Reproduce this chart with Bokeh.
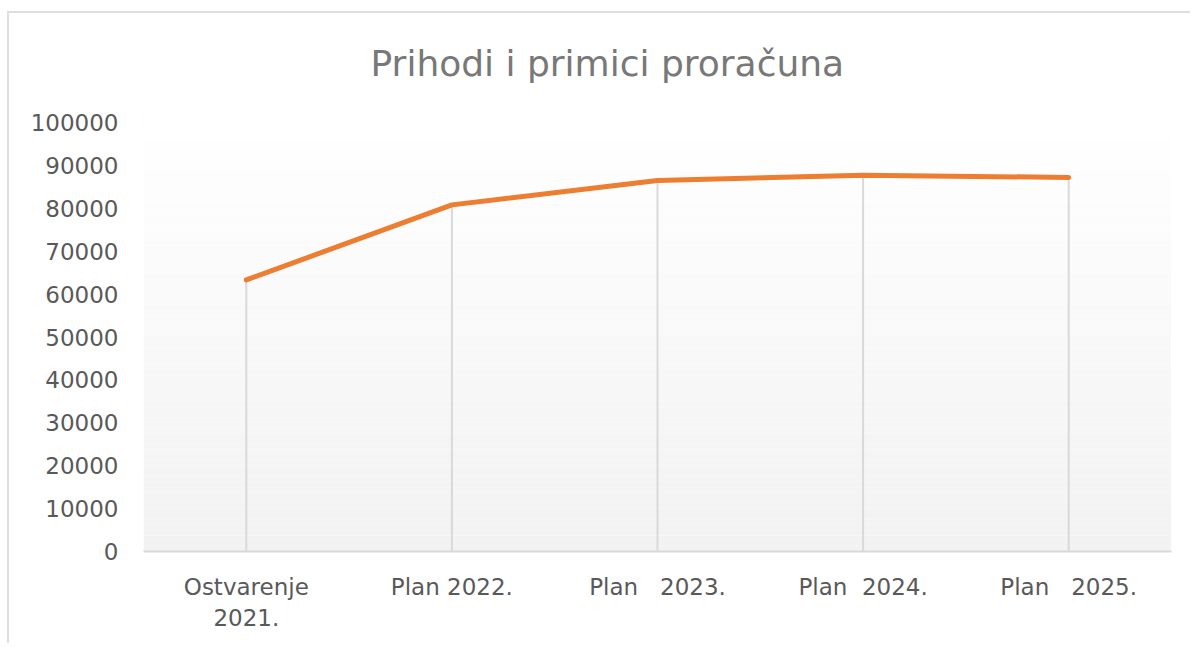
import numpy as np
from bokeh.plotting import figure
from bokeh.models import FixedTicker, Title, Range1d
from bokeh.embed import file_html
from bokeh.resources import INLINE

# ---- data ----
categories = ["Ostvarenje\n2021.", "Plan 2022.", "Plan\u00a0\u00a0 2023.", "Plan\u00a0 2024.", "Plan\u00a0\u00a0 2025."]
values = [63300, 80800, 86500, 87700, 87200]
y_ticks = [0, 10000, 20000, 30000, 40000, 50000, 60000, 70000, 80000, 90000, 100000]
y_tick_labels = ["0", "10000", "20000", "30000", "40000", "50000", "60000", "70000", "80000", "90000", "100000"]
title_text = "Prihodi i primici proračuna"

xs = list(range(len(categories)))

p = figure(frame_width=1028, frame_height=429, output_backend="svg", toolbar_location=None,
           x_range=Range1d(-0.5, len(categories) - 0.5), y_range=Range1d(0, 100000),
           min_border_left=143, min_border_right=19, min_border_top=122, min_border_bottom=92)
p.title = None
p.add_layout(Title(text=title_text, align="left", offset=227, standoff=77,
                   text_font="DejaVu Sans", text_font_size="36px", text_font_style="normal",
                   text_color="#787878"), "above")
# chart-area border (top and left edges), drawn behind a transparent canvas border
p.styles = {
    "background-color": "white",
    "background-image": "linear-gradient(#dedede, #dedede), linear-gradient(#dedede, #dedede)",
    "background-size": "100% 2px, 2px 100%",
    "background-position": "7px 11px, 7px 11px",
    "background-repeat": "no-repeat",
}

p.outline_line_color = None
p.xgrid.grid_line_color = None
p.ygrid.grid_line_color = None
p.background_fill_color = "white"
p.border_fill_color = None

# gradient background of plot area (styling only)
n_strips = 80
edges = np.linspace(0, 100000, n_strips + 1)
tvals = (np.arange(n_strips) + 0.5) / n_strips
cols = []
for t in tvals:
    c = int(round(242 + 13 * t))
    cols.append("#%02x%02x%02x" % (c, c, c))
p.quad(left=-0.5, right=len(categories) - 0.5, bottom=edges[:-1], top=edges[1:],
       fill_color=cols, line_color=None)

# drop lines
p.segment(x0=xs, y0=[0] * len(xs), x1=xs, y1=values, line_color="#d9d9d9", line_width=2)

# series line
p.line(x=xs, y=values, line_color="#ED7D31", line_width=5, line_cap="round", line_join="round")

# axes
p.yaxis.ticker = FixedTicker(ticks=y_ticks)
p.yaxis.major_label_overrides = {t: s for t, s in zip(y_ticks, y_tick_labels)}
p.yaxis.axis_line_color = None
p.yaxis.major_tick_line_color = None
p.yaxis.minor_tick_line_color = None
p.yaxis.major_tick_out = 0
p.yaxis.major_tick_in = 0
p.yaxis.major_label_standoff = 25
p.yaxis.major_label_text_font = "DejaVu Sans"
p.yaxis.major_label_text_font_size = "23px"
p.yaxis.major_label_text_color = "#595959"

p.xaxis.ticker = FixedTicker(ticks=xs)
p.xaxis.major_label_overrides = {i: c for i, c in zip(xs, categories)}
p.xaxis.axis_line_color = "#d9d9d9"
p.xaxis.axis_line_width = 2
p.xaxis.major_tick_line_color = None
p.xaxis.minor_tick_line_color = None
p.xaxis.major_tick_out = 0
p.xaxis.major_tick_in = 0
p.xaxis.major_label_standoff = 22
p.xaxis.major_label_text_font = "DejaVu Sans"
p.xaxis.major_label_text_font_size = "23px"
p.xaxis.major_label_text_color = "#595959"

open("out.html", "w").write(file_html(p, INLINE))
